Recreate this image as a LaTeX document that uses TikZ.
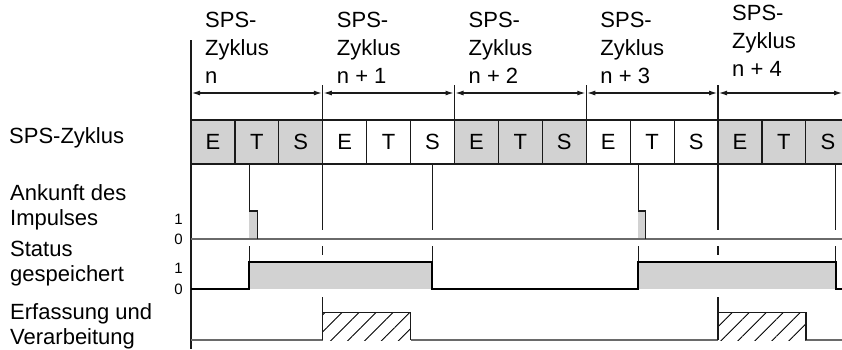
\documentclass[tikz,border=0pt]{standalone}
\usepackage{fontspec}
\setmainfont{Liberation Sans}
\usepackage{tikz}
\usetikzlibrary{arrows.meta, patterns.meta}
\usepackage{xcolor}
\definecolor{spsGrau}{HTML}{D2D2D2}
\definecolor{spsLinie}{HTML}{1A1A1A}
\definecolor{spsSignal}{HTML}{6A6A6A}

\begin{document}
\begin{tikzpicture}[x=1pt, y=-1pt, font=\fontsize{22}{28}\selectfont,
    zelle/.style={draw=spsLinie, line width=1.2pt, minimum width=43.92pt, minimum height=44pt, inner sep=0pt},
    kopf/.style={anchor=base west, align=left, inner sep=0pt, font=\fontsize{22}{28}\selectfont},
    links/.style={anchor=base west, align=left, inner sep=0pt, font=\fontsize{22}{25}\selectfont},
    pegel/.style={anchor=base east, inner sep=0pt, font=\fontsize{15}{15}\selectfont},
    marke/.style={draw=spsLinie, line width=1.3pt},
    status/.style={draw=black, line width=2pt},
    grundlinie/.style={draw=spsSignal, line width=1.6pt},
    zyklpfeil/.style={draw=spsLinie, line width=1.1pt, {Latex[length=8pt,width=5pt]}-{Latex[length=8pt,width=5pt]}}]
  \useasboundingbox (0,0) rectangle (842,349);
  \clip (0,0) rectangle (842,349);
  % Zyklen: Anfang bei x=191, Breite 131.75
  \foreach \z in {0,...,4} {
    \coordinate (c\z) at ({191+131.75*\z},93);
  }
  \coordinate (cEnde) at (842,93);
  % Beschriftung oben (Anker = letzte Zeile)
  \foreach \z/\nm in {0/n, 1/n + 1, 2/n + 2, 3/n + 3} {
    \node[kopf] (k\z) at ({205+131.75*\z},83) {SPS-\\Zyklus\\\nm};
  }
  \node[kopf] (k4) at ({205+131.75*4},76) {SPS-\\Zyklus\\n + 4};
  % Pfeile
  \draw[zyklpfeil] ([xshift=1pt]c0) -- ([xshift=-1pt]c1);
  \draw[zyklpfeil] ([xshift=1pt]c1) -- ([xshift=-1pt]c2);
  \draw[zyklpfeil] ([xshift=1pt]c2) -- ([xshift=-1pt]c3);
  \draw[zyklpfeil] ([xshift=1pt]c3) -- ([xshift=-1pt]c4);
  \draw[zyklpfeil] ([xshift=1pt]c4) -- (cEnde);
  % Trennlinien
  \draw[marke] (191,40) -- (191,349);
  \foreach \z in {1,...,4} {
    \draw[marke] ({191+131.75*\z},85) -- ({191+131.75*\z},120);
  }
  % Zellen E T S
  \foreach \z/\fb in {0/spsGrau, 1/white, 2/spsGrau, 3/white, 4/spsGrau} {
    \foreach \i/\nm in {0/E, 1/T, 2/S} {
      \node[zelle, fill=\fb] (z\z\nm) at ({191+43.92*(3*\z+\i)+21.96},142) {\nm};
    }
  }
  % Beschriftung links
  \node[links] (lZyklus) at (9,143) {SPS-Zyklus};
  \node[links] (lAnkunft) at (10,225) {Ankunft des\\Impulses};
  \node[links] (lStatus) at (10,281) {Status\\gespeichert};
  \node[links] (lErfassung) at (10,344) {Erfassung und\\Verarbeitung};
  \node[pegel] (p1a) at (183,224) {1};
  \node[pegel] (p0a) at (183,244) {0};
  \node[pegel] (p1b) at (183,273) {1};
  \node[pegel] (p0b) at (183,294) {0};
  % Markierungen unter den Zellen
  \foreach \x in {322.75, 432.3, 718, 835.7} {
    \draw[marke] (\x,164) -- (\x,230);
  }
  \foreach \x in {249.3, 432.3, 638.3, 835.7} {
    \draw[marke] (\x,246) -- (\x,262);
  }
  \foreach \x in {322.75, 718} {
    \draw[marke] (\x,246) -- (\x,255);
    \draw[marke] (\x,297) -- (\x,313);
  }
  % Ankunft des Impulses
  \fill[spsGrau] (249.3,211) rectangle (257.3,239);
  \fill[spsGrau] (638.3,211) rectangle (645.7,239);
  \draw[grundlinie] (191,239) -- (842,239);
  \draw[marke] (249.3,164) -- (249.3,211) -- (257.3,211) -- (257.3,239);
  \draw[marke] (638.3,164) -- (638.3,211) -- (645.7,211) -- (645.7,239);
  % Status gespeichert
  \fill[spsGrau] (249.3,262) rectangle (432.3,289);
  \fill[spsGrau] (638.3,262) rectangle (835.7,289);
  \draw[status] (191,289) -- (249.3,289) -- (249.3,262) -- (432.3,262) -- (432.3,289)
    -- (638.3,289) -- (638.3,262) -- (835.7,262) -- (835.7,289) -- (842,289);
  % Erfassung und Verarbeitung
  \fill[pattern={Lines[angle=45, distance=12pt, line width=0.9pt]}, pattern color=black]
    (322.75,312.5) rectangle (410.7,340);
  \fill[pattern={Lines[angle=45, distance=12pt, line width=0.9pt]}, pattern color=black]
    (718,312.5) rectangle (806,340);
  \draw[grundlinie] (191,340) -- (322.75,340);
  \draw[grundlinie] (410.7,340) -- (718,340);
  \draw[grundlinie] (806,340) -- (842,340);
  \draw[marke] (322.75,340) -- (322.75,312.5) -- (410.7,312.5) -- (410.7,340);
  \draw[marke] (718,340) -- (718,312.5) -- (806,312.5) -- (806,340);
\end{tikzpicture}
\end{document}
